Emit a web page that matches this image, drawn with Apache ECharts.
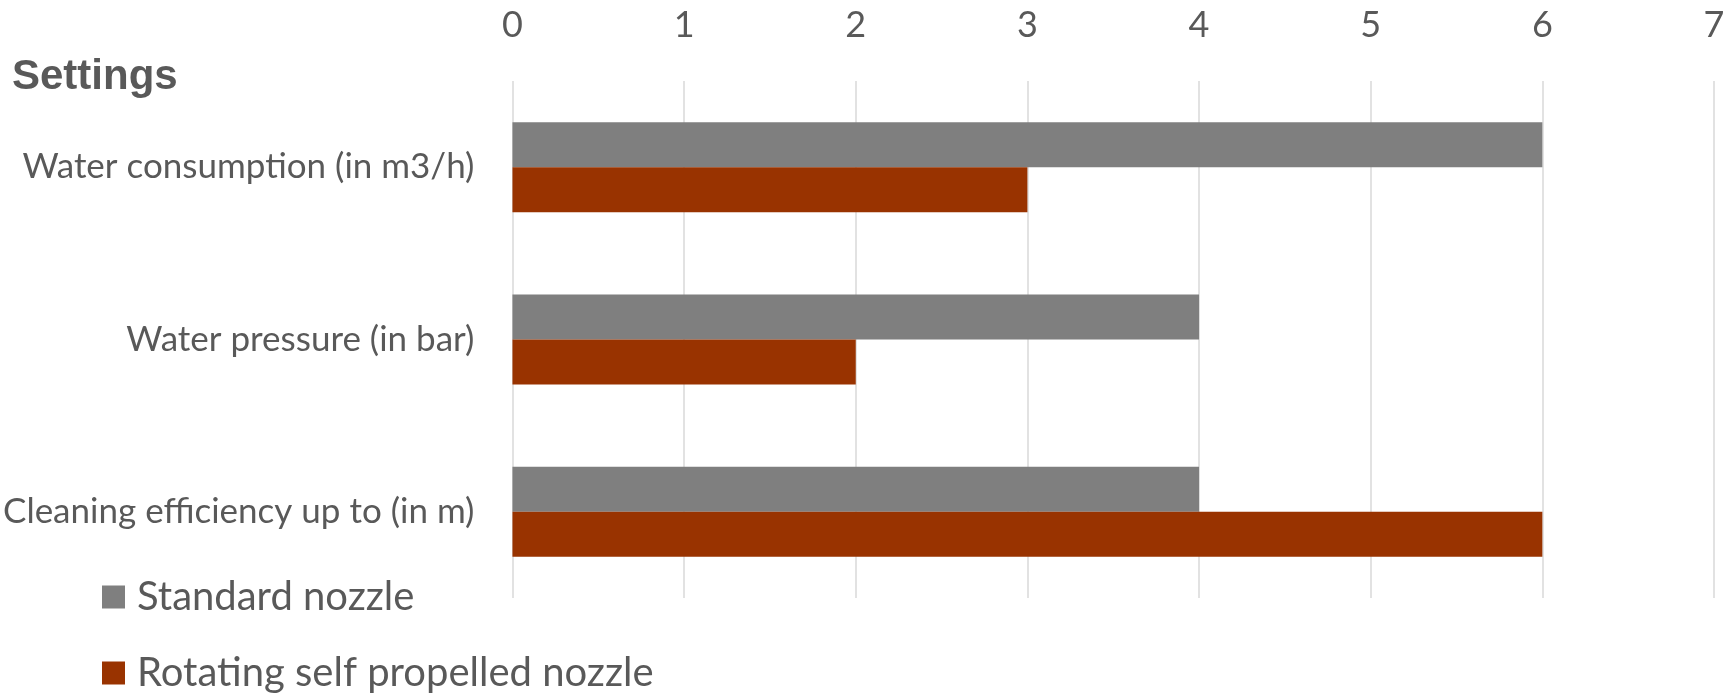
<!DOCTYPE html>
<html>
<head>
<meta charset="utf-8">
<script src="https://cdn.jsdelivr.net/npm/echarts@6/dist/echarts.min.js"></script>
<style>
html,body{margin:0;padding:0;background:#fff;}
#chart{width:1736px;height:694px;}
</style>
</head>
<body>
<div id="chart"></div>
<script>
const categories = ['Water consumption (in m3/h)', 'Water pressure (in bar)', 'Cleaning efficiency up to (in m)'];
const standardNozzle = [6, 4, 4];
const rotatingNozzle = [3, 2, 6];
const seriesNames = ['Standard nozzle', 'Rotating self propelled nozzle'];
const xTicks = {min: 0, max: 7, interval: 1};

const chart = echarts.init(document.getElementById('chart'), null, {renderer: 'canvas'});
const textColor = '#595959';
const font = 'Lato';
chart.setOption({
  animation: false,
  backgroundColor: '#ffffff',
  title: {
    text: 'Settings',
    left: 12,
    top: 56,
    padding: 0,
    textStyle: {fontFamily: 'Liberation Sans', fontWeight: 'bold', fontSize: 42, color: textColor}
  },
  grid: {left: 512, right: 22, top: 81, bottom: 96, containLabel: false},
  xAxis: {
    type: 'value',
    position: 'top',
    min: xTicks.min, max: xTicks.max, interval: xTicks.interval,
    axisLine: {show: false},
    axisTick: {show: false},
    splitLine: {show: true, lineStyle: {color: '#d9d9d9', width: 1.5}},
    axisLabel: {fontFamily: font, fontSize: 36, color: textColor, margin: 38}
  },
  yAxis: {
    type: 'category',
    inverse: true,
    data: categories,
    axisLine: {show: false},
    axisTick: {show: false},
    axisLabel: {fontFamily: font, fontSize: 35, color: textColor, margin: 38}
  },
  legend: {
    orient: 'vertical',
    left: 102,
    top: 577,
    padding: 0,
    itemWidth: 23,
    itemHeight: 23,
    itemGap: 36,
    icon: 'rect',
    data: seriesNames,
    textStyle: {fontFamily: font, fontSize: 40, color: textColor, padding: [0, 0, 0, 7]}
  },
  series: [
    {name: seriesNames[0], type: 'bar', data: standardNozzle, barWidth: 45, barGap: '0%', itemStyle: {color: '#7f7f7f'}},
    {name: seriesNames[1], type: 'bar', data: rotatingNozzle, barWidth: 45, barGap: '0%', itemStyle: {color: '#993300'}}
  ]
});
</script>
</body>
</html>
